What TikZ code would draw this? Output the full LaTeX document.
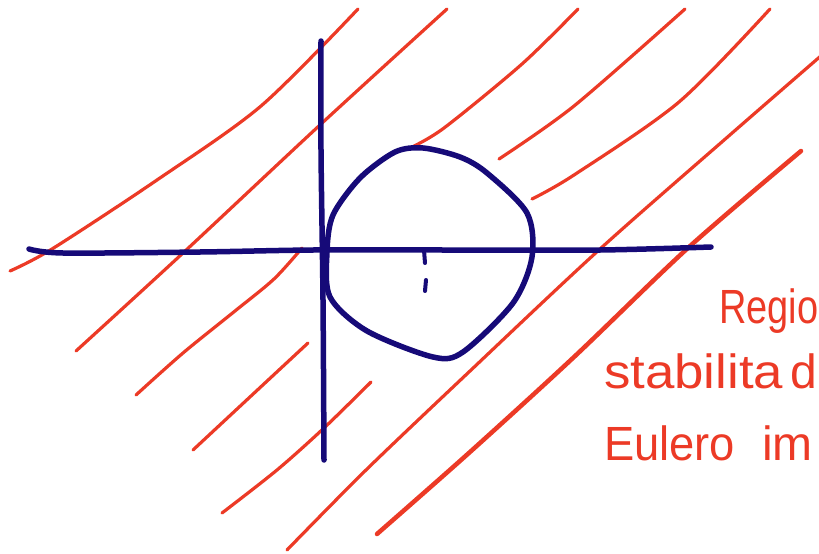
\documentclass[tikz,border=0pt]{standalone}
\usepackage{fontspec}
\setmainfont{Liberation Sans}
\definecolor{penred}{RGB}{236,58,38}
\definecolor{penblue}{RGB}{22,10,120}
\begin{document}
\begin{tikzpicture}[x=1pt,y=-1pt,
  redline/.style={draw=penred,line width=3.2pt,line cap=round,line join=round},
  boldred/.style={redline,line width=4.5pt},
  blueline/.style={draw=penblue,line width=5.5pt,line cap=round,line join=round},
  hand/.style={text=penred,font=\fontsize{48}{54}\selectfont,inner sep=0pt,anchor=base west}]
\useasboundingbox (0,0) rectangle (819,554);
% red hatching
\draw[redline] plot[smooth] coordinates {(10,271) (52,249) (157,180) (261,106) (358,9)};
\draw[redline] plot[smooth] coordinates {(76,351) (183,253) (321,124) (447,9)};
\draw[redline] plot[smooth] coordinates {(136,395) (183,353) (235,311) (274,279) (302,248)};
\draw[redline] plot[smooth] coordinates {(193,450) (251,396) (308,343)};
\draw[redline] plot[smooth] coordinates {(222,513) (277,470) (324,428) (371,382)};
\begin{scope}
\clip (0,0) rectangle (819,554);
\draw[redline] plot[smooth] coordinates {(287,550) (366,470) (470,371) (600,249) (731,134) (830,48)};
\end{scope}
\draw[boldred] plot[smooth] coordinates {(377,534) (470,452) (574,357) (689,247) (801,151)};
\draw[redline] plot[smooth] coordinates {(410,148) (444,128) (522,64) (578,9)};
\draw[redline] plot[smooth] coordinates {(499,159) (574,106) (685,9)};
\draw[redline] plot[smooth] coordinates {(532,199) (574,175) (679,102) (770,9)};
% axes
\draw[blueline] plot[smooth] coordinates {(321,41) (321,150) (323,300) (324,460)};
\draw[blueline] plot[smooth] coordinates {(29,249) (63,253) (200,252) (313,250) (450,250) (600,250) (711,247)};
% circle
\draw[blueline] plot[smooth cycle] coordinates {(423,148) (460,157) (487,173) (527,213) (532,257) (513,303) (463,352) (433,357) (367,331) (330,297) (327,252) (333,215) (360,178) (395,152)};
% tick
\draw[blueline,line width=4pt] (424,250) -- (425,263);
\draw[blueline,line width=4pt] (426,280) -- (425,291);
% labels
\node[hand] (t1) at (719,323) {\scalebox{0.79}[1]{Regio}};
\node[hand] (t2) at (604,388) {\scalebox{1.1}[1]{stabilita}};
\node[hand] (t2b) at (790,388) {d};
\node[hand] (t3) at (604,460) {\scalebox{0.944}[1]{Eulero}};
\node[hand] (t3b) at (762,460) {im};
\end{tikzpicture}
\end{document}
